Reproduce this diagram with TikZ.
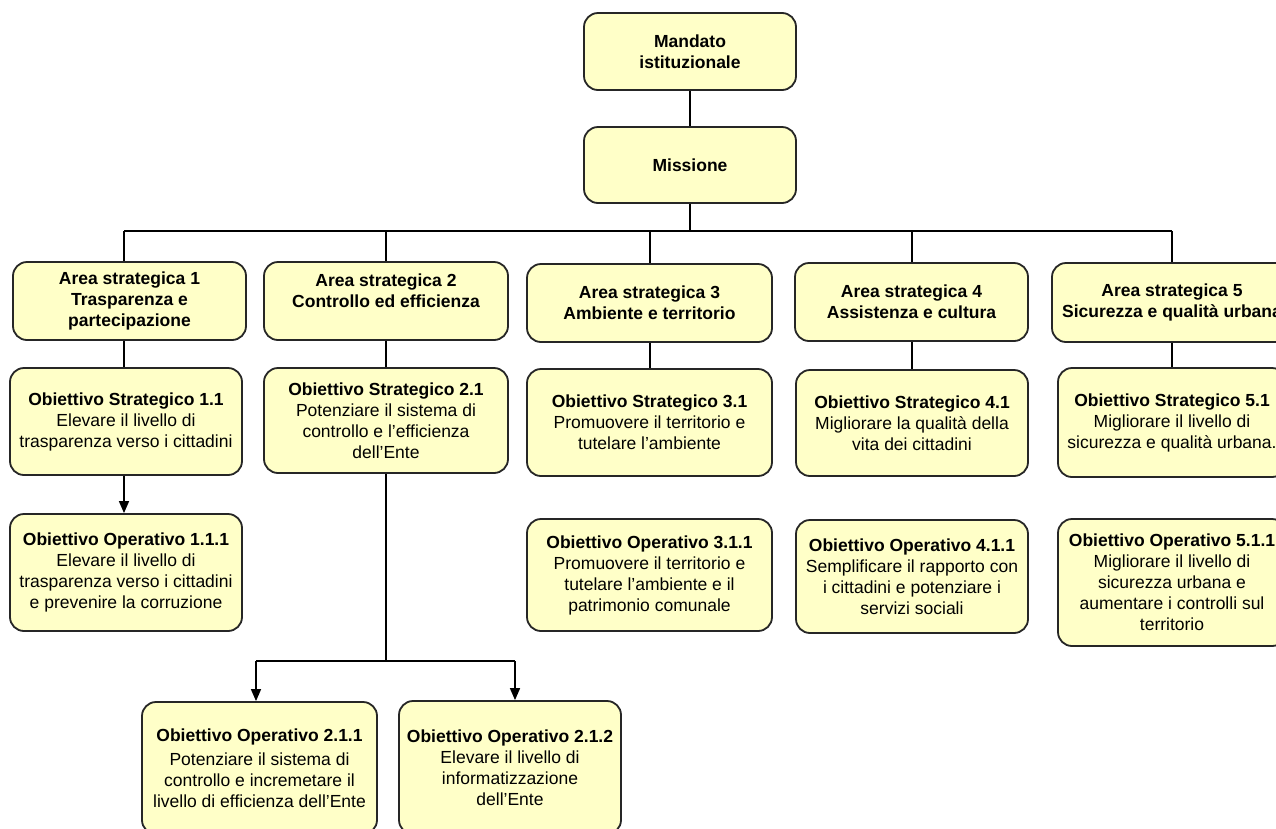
\documentclass[tikz,border=0pt]{standalone}
\usepackage{fontspec}
\setmainfont{Liberation Sans}
\usetikzlibrary{arrows.meta}
\definecolor{boxyellow}{RGB}{255,255,200}
\begin{document}
\begin{tikzpicture}[x=1pt,y=-1pt,
 box/.style={draw=black!85, line width=1.8pt, fill=boxyellow, rounded corners=14pt, align=center, inner sep=0pt, font=\fontsize{17.5}{21}\selectfont},
 bbox/.style={box, font=\fontsize{17.5}{21}\selectfont\bfseries},
 conn/.style={line width=1.5pt, black},
 arr/.style={conn, -{Triangle[width=10pt,length=12pt]}}]
\useasboundingbox (0,0) rectangle (1276,828);
\clip (0,0) rectangle (1276,828);
\fill[white] (0,0) rectangle (1276,828);

\node[bbox, minimum width=212pt, minimum height=77pt] (mandato) at (690,51.5) {Mandato\\istituzionale};
\node[bbox, minimum width=212pt, minimum height=76pt] (missione) at (690,165) {Missione};

\node[bbox, minimum width=233pt, minimum height=78pt] (a1) at (129.5,301) {Area strategica 1\\Trasparenza e\\partecipazione};
\node[bbox, minimum width=244pt, minimum height=78pt] (a2) at (386,301) {Area strategica 2\\Controllo ed efficienza\\\mbox{}};
\node[bbox, minimum width=245pt, minimum height=78pt] (a3) at (649.5,303) {Area strategica 3\\Ambiente e territorio};
\node[bbox, minimum width=233pt, minimum height=78pt] (a4) at (911.5,302) {Area strategica 4\\Assistenza e cultura};
\node[bbox, minimum width=240pt, minimum height=79pt] (a5) at (1172,302.5) {Area strategica 5\\Sicurezza e qualità urbana};

\node[box, minimum width=232pt, minimum height=107pt] (os1) at (126,421.5) {\textbf{Obiettivo Strategico 1.1}\\Elevare il livello di\\trasparenza verso i cittadini};
\node[box, minimum width=232pt, minimum height=117pt] (oo1) at (126,572.5) {\textbf{Obiettivo Operativo 1.1.1}\\Elevare il livello di\\trasparenza verso i cittadini\\e prevenire la corruzione};
\node[box, minimum width=244pt, minimum height=105pt] (os2) at (386,420.5) {\textbf{Obiettivo Strategico 2.1}\\Potenziare il sistema di\\controllo e l’efficienza\\dell’Ente};
\node[box, minimum width=245pt, minimum height=107pt] (os3) at (649.5,422.5) {\textbf{Obiettivo Strategico 3.1}\\Promuovere il territorio e\\tutelare l’ambiente};
\node[box, minimum width=245pt, minimum height=112pt] (oo3) at (649.5,575) {\textbf{Obiettivo Operativo 3.1.1}\\Promuovere il territorio e\\tutelare l’ambiente e il\\patrimonio comunale};
\node[box, minimum width=232pt, minimum height=106pt] (os4) at (912,423) {\textbf{Obiettivo Strategico 4.1}\\Migliorare la qualità della\\vita dei cittadini};
\node[box, minimum width=232pt, minimum height=113pt] (oo4) at (912,576.5) {\textbf{Obiettivo Operativo 4.1.1}\\Semplificare il rapporto con\\i cittadini e potenziare i\\servizi sociali};
\node[box, minimum width=228pt, minimum height=109pt] (os5) at (1172,422.5) {\textbf{Obiettivo Strategico 5.1}\\Migliorare il livello di\\sicurezza e qualità urbana.};
\node[box, minimum width=228pt, minimum height=127pt] (oo5) at (1172,582.5) {\textbf{Obiettivo Operativo 5.1.1}\\Migliorare il livello di\\sicurezza urbana e\\aumentare i controlli sul\\territorio};
\node[box, minimum width=235pt, minimum height=132pt] (oo21) at (259.5,768) {\textbf{Obiettivo Operativo 2.1.1}\\[3pt]Potenziare il sistema di\\controllo e incremetare il\\livello di efficienza dell’Ente};
\node[box, minimum width=222pt, minimum height=133pt] (oo22) at (510,767.5) {\textbf{Obiettivo Operativo 2.1.2}\\Elevare il livello di\\informatizzazione\\dell’Ente};

\coordinate (bm) at (690,231);
\coordinate (b1) at (124,231);
\coordinate (b2) at (386,231);
\coordinate (b3) at (650,231);
\coordinate (b4) at (912,231);
\coordinate (b5) at (1172,231);
\coordinate (s2) at (386,661);
\coordinate (sl) at (256,661);
\coordinate (sr) at (515,661);

\draw[conn] (mandato) -- (missione);
\draw[conn] (missione.south) -- (bm);
\draw[conn] (b1) -- (b5);
\draw[conn] (b1) -- (b1 |- a1.north);
\draw[conn] (b2) -- (b2 |- a2.north);
\draw[conn] (b3) -- (b3 |- a3.north);
\draw[conn] (b4) -- (b4 |- a4.north);
\draw[conn] (b5) -- (b5 |- a5.north);

\draw[conn] (a1.south -| b1) -- (os1.north -| b1);
\draw[conn] (a2) -- (os2);
\draw[conn] (a3.south -| b3) -- (os3.north -| b3);
\draw[conn] (a4.south -| b4) -- (os4.north -| b4);
\draw[conn] (a5) -- (os5);

\draw[arr] (os1.south -| b1) -- (oo1.north -| b1);
\draw[conn] (os2) -- (s2);
\draw[conn] (sl) -- (sr);
\draw[arr] (sl) -- (sl |- oo21.north);
\draw[arr] (sr) -- (sr |- oo22.north);
\end{tikzpicture}
\end{document}
